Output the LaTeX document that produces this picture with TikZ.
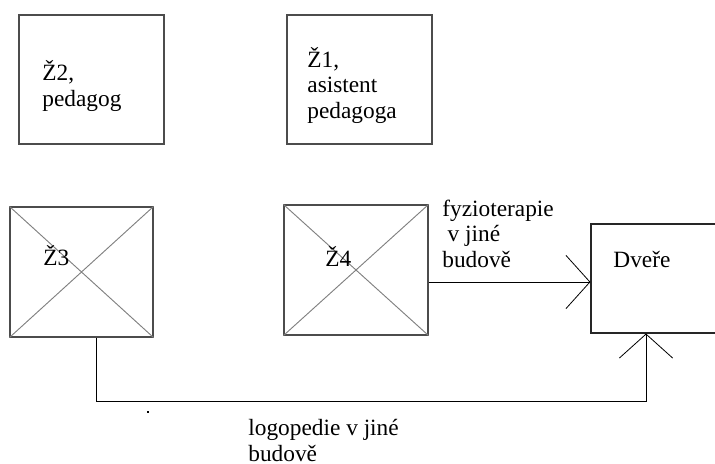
\documentclass[tikz,border=0pt]{standalone}
\usepackage{fontspec}
\setmainfont{Liberation Serif}
\usepackage{tikz}
\usetikzlibrary{arrows.meta,calc}

\begin{document}
\begin{tikzpicture}[x=0.75pt,y=-0.75pt,line width=0.6pt,
    tip/.style={-{Straight Barb[length=18pt,width=40pt,line width=0.6pt]}}]
            \tikzstyle{room}=[draw=black!70,rectangle,inner sep=0pt,line width=0.8pt]
            \tikzstyle{cross}=[draw=black!50,line width=0.7pt]
            \tikzstyle{label}=[anchor=base west,inner sep=0pt,align=left,
                font=\fontsize{17.5}{19}\selectfont]
            \useasboundingbox (0,0) rectangle (715,464);
            \clip (0,0) rectangle (715,464);
            % boxes
            \node[room,minimum width=108.75pt,minimum height=96.75pt] (Z2) at (91.5,79.5) {};
            \node[room,minimum width=108.75pt,minimum height=96.75pt] (Z1) at (359.5,79.5) {};
            \node[room,minimum width=107.25pt,minimum height=97.5pt] (Z3) at (81.5,272) {};
            \node[room,minimum width=108pt,minimum height=97.5pt] (Z4) at (356,270) {};
            \node[room,draw=black!85,minimum width=111.75pt,minimum height=81.75pt] (Dv) at (665.5,278.5) {};
            \draw[cross] (Z3.north west) -- (Z3.south east) (Z3.north east) -- (Z3.south west);
            \draw[cross] (Z4.north west) -- (Z4.south east) (Z4.north east) -- (Z4.south west);
            % texts (base = last line)
            \node[label] (t2) at (42,106) {Ž2,\\pedagog};
            \node[label] (t1) at (307,118) {Ž1,\\asistent\\pedagoga};
            \node[label] (t3) at (43,265) {Ž3};
            \node[label] (t4) at (325,266) {Ž4};
            \node[label] (tD) at (613,267) {Dveře};
            \node[label] (fyz) at (442,267) {fyzioterapie\\\hspace*{4pt}v jiné\\budově};
            \node[label] (logo) at (248,461) {logopedie v jiné\\budově};
            % paths
            \coordinate (bend) at (96,401);
            \draw[tip] ([yshift=-9pt]Z4.east) -- ([yshift=-9pt]Z4.east -| Dv.west);
            \draw[tip] (Z3.south -| bend) -- (bend) -| ([xshift=-14.6pt]Dv.south);
            \fill (147,411) rectangle (148.5,412.5);
        \end{tikzpicture}
\end{document}
